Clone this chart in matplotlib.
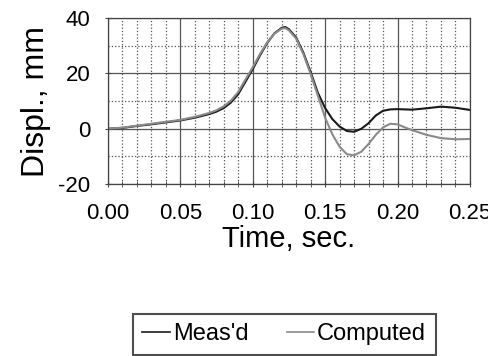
import matplotlib.pyplot as plt
from matplotlib.ticker import MultipleLocator

plt.rcParams['font.family'] = ['Liberation Sans', 'DejaVu Sans']
plt.rcParams['axes.unicode_minus'] = False

# Data
t_meas = [0.000, 0.010, 0.020, 0.030, 0.040, 0.050, 0.060, 0.070, 0.075, 0.080,
          0.085, 0.090, 0.095, 0.100, 0.105, 0.110, 0.115, 0.120, 0.1225, 0.125,
          0.130, 0.135, 0.140, 0.145, 0.150, 0.155, 0.160, 0.165, 0.170, 0.175,
          0.180, 0.185, 0.190, 0.195, 0.200, 0.210, 0.220, 0.230, 0.240, 0.250]
d_meas = [0.0, 0.3, 1.0, 1.6, 2.3, 3.0, 4.0, 5.3, 6.2, 7.5,
          9.5, 12.5, 17.0, 21.5, 26.5, 31.0, 34.5, 36.5, 36.8, 36.0,
          33.0, 27.5, 20.5, 13.0, 7.5, 3.5, 0.8, -0.8, -1.1, 0.0,
          2.0, 4.8, 6.5, 7.0, 7.1, 6.9, 7.4, 8.0, 7.6, 6.8]

t_comp = [0.000, 0.010, 0.020, 0.030, 0.040, 0.050, 0.060, 0.070, 0.075, 0.080,
          0.085, 0.090, 0.095, 0.100, 0.105, 0.110, 0.115, 0.120, 0.1225, 0.125,
          0.130, 0.135, 0.140, 0.145, 0.150, 0.155, 0.160, 0.165, 0.170, 0.175,
          0.180, 0.185, 0.190, 0.195, 0.200, 0.205, 0.210, 0.220, 0.230, 0.240, 0.250]
d_comp = [0.0, 0.4, 1.1, 1.8, 2.5, 3.2, 4.3, 5.7, 6.7, 8.1,
          10.2, 13.3, 17.8, 22.2, 27.0, 31.2, 34.4, 36.2, 36.4, 35.6,
          32.6, 27.0, 19.8, 12.0, 4.0, -2.0, -6.5, -9.2, -9.6, -8.3,
          -5.5, -2.2, 0.5, 1.8, 1.6, 0.5, -0.5, -2.2, -3.4, -3.8, -3.7]

fig = plt.figure(figsize=(4.88, 3.56), dpi=100)
ax = fig.add_axes([0.221, 0.483, 0.742, 0.466])

ax.plot(t_meas, d_meas, color='#1a1a1a', linewidth=1.5, label="Meas'd")
ax.plot(t_comp, d_comp, color='#8a8a8a', linewidth=1.5, label='Computed')

ax.set_xlim(0, 0.25)
ax.set_ylim(-20, 40)
ax.xaxis.set_major_locator(MultipleLocator(0.05))
ax.xaxis.set_minor_locator(MultipleLocator(0.01))
ax.yaxis.set_major_locator(MultipleLocator(20))
ax.yaxis.set_minor_locator(MultipleLocator(10))

ax.grid(True, which='major', color='#555555', linewidth=0.9)
ax.grid(True, which='minor', color='#555555', linewidth=0.9, linestyle=':')
ax.set_axisbelow(True)

ax.xaxis.set_major_formatter(plt.FuncFormatter(lambda v, p: f'{v:.2f}'))
ax.tick_params(axis='both', which='both', labelsize=16, direction='inout', length=5, color='#444444')
ax.tick_params(axis='x', which='major', pad=11)
ax.tick_params(axis='y', which='major', pad=10)
ax.tick_params(axis='y', which='minor', length=0)
for s in ax.spines.values():
    s.set_color('#444444')
    s.set_linewidth(0.9)

ax.set_xlabel('Time, sec.', fontsize=21, labelpad=1)
ax.set_ylabel('Displ., mm', fontsize=23, labelpad=5)

leg = fig.legend(loc='upper left', bbox_to_anchor=(133 / 488, 1 - 314 / 356),
                 ncol=2, fontsize=17, frameon=True, fancybox=False,
                 handlelength=1.15, handletextpad=0.15, columnspacing=1.6,
                 borderpad=0.4, borderaxespad=0)
leg.get_frame().set_edgecolor('#222222')
leg.get_frame().set_linewidth(1.5)
for h in leg.get_lines():
    h.set_linewidth(1.2)

plt.savefig('out.png', dpi=100)
